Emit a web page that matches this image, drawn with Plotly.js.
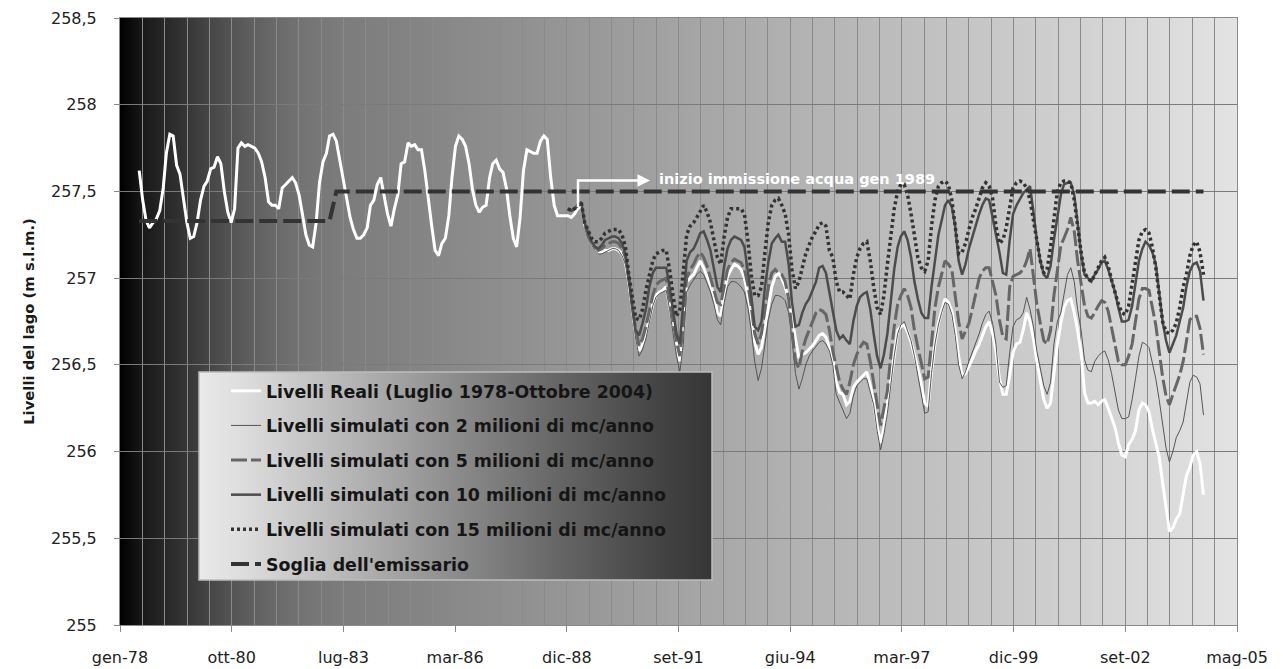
<!DOCTYPE html>
<html>
<head>
<meta charset="utf-8">
<script src="https://cdn.plot.ly/plotly-3.0.1.min.js"></script>
<style>html,body{margin:0;padding:0;background:#fff}#chart{width:1283px;height:669px}</style>
</head>
<body>
<div id="chart"></div>
<script>
// ---------- DATA ----------
const realStart = [1978, 7];   // first monthly value: luglio 1978
const simStart = [1989, 1];    // simulations start: gennaio 1989

const realValues = [
 257.62,257.45,257.33,257.29,257.32,257.34,
 257.39,257.52,257.72,257.83,257.82,257.65,257.60,257.45,257.32,257.23,257.24,257.32,
 257.45,257.53,257.56,257.63,257.64,257.70,257.66,257.50,257.38,257.32,257.40,257.75,
 257.78,257.76,257.77,257.76,257.75,257.72,257.67,257.58,257.44,257.42,257.42,257.40,
 257.52,257.54,257.56,257.58,257.55,257.48,257.37,257.25,257.19,257.18,257.32,257.55,
 257.67,257.72,257.82,257.83,257.79,257.68,257.58,257.48,257.35,257.28,257.23,257.23,
 257.25,257.29,257.42,257.45,257.54,257.58,257.48,257.37,257.30,257.40,257.48,257.66,
 257.67,257.78,257.76,257.77,257.74,257.74,257.62,257.45,257.30,257.16,257.13,257.20,
 257.23,257.36,257.58,257.76,257.82,257.80,257.76,257.66,257.51,257.42,257.38,257.41,
 257.42,257.58,257.66,257.68,257.63,257.61,257.52,257.36,257.23,257.18,257.35,257.62,
 257.74,257.73,257.72,257.72,257.79,257.82,257.80,257.58,257.42,257.36,257.36,257.36,
 257.36,257.35,257.37,257.40,257.42,257.31,257.24,257.20,257.17,257.15,257.15,257.16,
 257.16,257.17,257.17,257.16,257.14,257.09,256.98,256.83,256.68,256.58,256.62,256.68,
 256.76,256.85,256.90,256.92,256.93,256.95,256.84,256.72,256.62,256.52,256.70,256.98,
 257.00,257.02,257.06,257.10,257.06,257.01,256.96,256.90,256.80,256.78,256.92,257.01,
 257.05,257.08,257.07,257.05,257.00,256.90,256.79,256.63,256.56,256.60,256.72,256.85,
 256.95,257.01,257.03,257.00,256.95,256.88,256.78,256.65,256.54,256.56,256.57,256.59,
 256.61,256.64,256.67,256.68,256.66,256.60,256.54,256.40,256.34,256.33,256.27,256.29,
 256.37,256.40,256.42,256.44,256.46,256.38,256.29,256.15,256.05,256.14,256.27,256.40,
 256.55,256.70,256.72,256.73,256.69,256.63,256.56,256.48,256.39,256.28,256.26,256.46,
 256.62,256.74,256.81,256.88,256.86,256.81,256.70,256.55,256.44,256.45,256.49,256.54,
 256.58,256.62,256.67,256.72,256.75,256.68,256.58,256.42,256.33,256.33,256.44,256.57,
 256.62,256.63,256.70,256.80,256.75,256.65,256.52,256.40,256.30,256.25,256.28,256.45,
 256.62,256.74,256.83,256.87,256.88,256.80,256.70,256.57,256.34,256.28,256.28,256.29,
 256.27,256.29,256.30,256.25,256.20,256.14,256.05,255.98,255.97,256.04,256.07,256.12,
 256.24,256.28,256.27,256.23,256.13,256.05,255.97,255.82,255.66,255.54,255.56,255.61,
 255.64,255.76,255.86,255.91,255.98,256.00,255.93,255.75
];

const sim2Values = [
 257.40,257.39,257.40,257.42,257.43,257.30,257.23,257.19,257.16,257.14,257.14,257.15,
 257.16,257.17,257.17,257.16,257.13,257.08,256.96,256.80,256.65,256.55,256.59,256.65,
 256.75,256.84,256.89,256.91,256.92,256.93,256.82,256.68,256.55,256.46,256.62,256.92,
 256.96,256.99,257.02,257.04,257.02,256.97,256.92,256.85,256.76,256.73,256.86,256.95,
 256.98,256.98,256.97,256.95,256.92,256.83,256.70,256.52,256.41,256.48,256.62,256.76,
 256.85,256.90,256.90,256.89,256.87,256.80,256.65,256.45,256.36,256.42,256.50,256.55,
 256.58,256.61,256.63,256.64,256.62,256.58,256.50,256.33,256.28,256.24,256.19,256.22,
 256.32,256.38,256.40,256.42,256.42,256.35,256.27,256.12,256.01,256.10,256.22,256.38,
 256.55,256.68,256.73,256.75,256.70,256.64,256.55,256.44,256.33,256.22,256.23,256.45,
 256.62,256.73,256.80,256.86,256.85,256.79,256.67,256.50,256.42,256.46,256.52,256.57,
 256.62,256.68,256.74,256.79,256.81,256.74,256.62,256.40,256.37,256.38,256.57,256.72,
 256.76,256.77,256.80,256.89,256.82,256.72,256.58,256.48,256.38,256.33,256.40,256.62,
 256.75,256.80,256.90,257.02,257.06,256.98,256.82,256.70,256.53,256.47,256.46,256.52,
 256.55,256.57,256.58,256.53,256.45,256.33,256.24,256.19,256.19,256.20,256.30,256.42,
 256.55,256.63,256.62,256.60,256.52,256.42,256.30,256.15,256.02,255.94,256.00,256.08,
 256.12,256.17,256.28,256.40,256.44,256.43,256.39,256.21
];

const sim5Values = [
 257.40,257.39,257.40,257.42,257.43,257.31,257.24,257.20,257.18,257.16,257.17,257.19,
 257.20,257.21,257.21,257.20,257.17,257.12,257.00,256.84,256.70,256.61,256.65,256.72,
 256.82,256.90,256.96,256.98,256.99,257.00,256.88,256.74,256.63,256.55,256.72,257.00,
 257.05,257.08,257.12,257.15,257.12,257.07,257.00,256.93,256.86,256.85,256.96,257.05,
 257.09,257.11,257.10,257.09,257.05,256.96,256.84,256.68,256.62,256.68,256.82,256.95,
 257.03,257.05,257.03,257.02,256.98,256.88,256.70,256.52,256.48,256.58,256.65,256.70,
 256.75,256.80,256.82,256.81,256.79,256.70,256.58,256.48,256.40,256.36,256.33,256.40,
 256.50,256.56,256.60,256.63,256.62,256.52,256.40,256.25,256.15,256.25,256.35,256.55,
 256.72,256.85,256.90,256.94,256.90,256.83,256.70,256.60,256.50,256.42,256.43,256.65,
 256.83,256.95,257.02,257.10,257.08,257.05,256.90,256.75,256.65,256.70,256.74,256.82,
 256.92,257.00,257.04,257.06,257.06,256.97,256.90,256.76,256.66,256.65,256.95,257.01,
 257.02,257.03,257.05,257.10,257.17,257.00,256.85,256.74,256.64,256.62,256.70,256.90,
 257.05,257.19,257.23,257.28,257.35,257.27,257.10,256.98,256.84,256.78,256.77,256.80,
 256.84,256.87,256.86,256.81,256.72,256.63,256.52,256.50,256.50,256.55,256.62,256.75,
 256.88,256.94,256.94,256.93,256.84,256.73,256.58,256.43,256.32,256.27,256.33,256.38,
 256.44,256.52,256.64,256.76,256.78,256.78,256.71,256.56
];

const sim10Values = [
 257.40,257.39,257.40,257.42,257.44,257.32,257.26,257.21,257.18,257.17,257.19,257.22,
 257.23,257.24,257.24,257.23,257.20,257.14,257.01,256.83,256.70,256.67,256.74,256.82,
 256.95,257.03,257.06,257.06,257.06,257.06,256.95,256.82,256.68,256.62,256.85,257.10,
 257.15,257.17,257.21,257.26,257.27,257.22,257.16,257.05,256.95,256.92,257.07,257.17,
 257.22,257.24,257.23,257.22,257.18,257.05,256.90,256.72,256.70,256.75,256.95,257.09,
 257.20,257.23,257.25,257.21,257.21,257.08,256.86,256.72,256.73,256.80,256.85,256.88,
 256.93,256.98,257.06,257.07,257.03,256.92,256.82,256.70,256.65,256.67,256.64,256.62,
 256.75,256.84,256.89,256.91,256.92,256.82,256.68,256.55,256.48,256.56,256.68,256.88,
 257.05,257.18,257.24,257.27,257.22,257.12,256.98,256.88,256.80,256.77,256.77,256.95,
 257.10,257.25,257.33,257.42,257.45,257.41,257.30,257.10,257.02,257.08,257.17,257.24,
 257.30,257.37,257.42,257.46,257.45,257.35,257.26,257.15,257.03,257.02,257.22,257.37,
 257.42,257.46,257.49,257.51,257.53,257.38,257.22,257.10,257.02,257.00,257.07,257.22,
 257.36,257.48,257.54,257.55,257.55,257.48,257.32,257.14,257.02,257.00,256.98,257.02,
 257.05,257.09,257.10,257.05,256.98,256.92,256.83,256.75,256.75,256.76,256.84,256.98,
 257.10,257.17,257.21,257.19,257.15,257.08,256.93,256.75,256.64,256.57,256.62,256.67,
 256.75,256.83,256.95,257.04,257.08,257.09,257.04,256.87
];

const sim15Values = [
 257.40,257.39,257.40,257.42,257.44,257.32,257.27,257.23,257.21,257.21,257.23,257.26,
 257.27,257.28,257.28,257.28,257.25,257.18,257.02,256.88,256.77,256.76,256.82,256.93,
 257.02,257.10,257.14,257.15,257.16,257.16,257.05,256.90,256.78,256.82,257.05,257.25,
 257.30,257.32,257.35,257.39,257.42,257.38,257.32,257.22,257.12,257.08,257.24,257.35,
 257.40,257.40,257.40,257.40,257.37,257.22,257.02,256.90,256.90,256.95,257.15,257.32,
 257.42,257.45,257.46,257.42,257.37,257.25,257.05,256.94,256.98,257.06,257.14,257.19,
 257.24,257.27,257.31,257.32,257.30,257.16,257.12,256.98,256.92,256.92,256.90,256.88,
 257.02,257.12,257.17,257.20,257.21,257.10,256.95,256.83,256.79,256.90,257.08,257.25,
 257.40,257.50,257.54,257.54,257.48,257.37,257.24,257.12,257.06,257.04,257.10,257.30,
 257.45,257.53,257.55,257.56,257.54,257.45,257.30,257.14,257.15,257.20,257.28,257.35,
 257.40,257.46,257.52,257.55,257.53,257.46,257.30,257.20,257.22,257.29,257.42,257.52,
 257.55,257.56,257.55,257.52,257.45,257.33,257.22,257.10,257.03,257.05,257.18,257.35,
 257.50,257.55,257.56,257.56,257.55,257.45,257.30,257.15,257.03,257.00,256.98,257.02,
 257.06,257.10,257.12,257.07,256.99,256.92,256.85,256.80,256.79,256.84,256.96,257.10,
 257.22,257.27,257.28,257.26,257.18,257.06,256.90,256.75,256.69,256.68,256.70,256.74,
 256.83,256.95,257.02,257.13,257.19,257.21,257.15,257.02
];

const sogliaDates = ['1978-07-01', '1983-03-01', '1983-05-01', '2004-08-01'];
const sogliaValues = [257.33, 257.33, 257.50, 257.50];

const seriesNames = [
  'Livelli Reali (Luglio 1978-Ottobre 2004)',
  'Livelli simulati con 2 milioni di mc/anno',
  'Livelli simulati con 5 milioni di mc/anno',
  'Livelli simulati con 10 milioni di mc/anno',
  'Livelli simulati con 15 milioni di mc/anno',
  "Soglia dell'emissario"
];

const xTickText = ['gen-78','ott-80','lug-83','mar-86','dic-88','set-91','giu-94','mar-97','dic-99','set-02','mag-05'];
const yTickVals = [255, 255.5, 256, 256.5, 257, 257.5, 258, 258.5];
const yTickText = ['255', '255,5', '256', '256,5', '257', '257,5', '258', '258,5'];
const yTitle = 'Livelli del lago (m s.l.m.)';
const noteText = 'inizio immissione acqua gen 1989';

// ---------- HELPERS ----------
const DAY = 86400000;
const axisStartMs = Date.UTC(1978, 0, 10);
function isoDate(ms) { return new Date(ms).toISOString().slice(0, 10); }
function monthDates(start, n) {
  const out = [];
  for (let i = 0; i < n; i++) {
    const k = start[1] - 1 + i;
    const y = start[0] + Math.floor(k / 12);
    const m = (k % 12) + 1;
    out.push(y + '-' + String(m).padStart(2, '0') + '-01');
  }
  return out;
}
function gradientURI(stops) {
  const s = stops.map(([o, c]) => '<stop offset="' + o + '" stop-color="' + c + '"/>').join('');
  const svg = '<svg xmlns="http://www.w3.org/2000/svg" width="400" height="100" viewBox="0 0 400 100" preserveAspectRatio="none">' +
    '<defs><linearGradient id="g" x1="0" y1="0" x2="1" y2="0">' + s + '</linearGradient></defs>' +
    '<rect x="0" y="0" width="400" height="100" fill="url(#g)"/></svg>';
  return 'data:image/svg+xml;charset=utf-8,' + encodeURIComponent(svg);
}

const realDates = monthDates(realStart, realValues.length);
const simDates = monthDates(simStart, sim2Values.length);
const xTickVals = xTickText.map((_, i) => isoDate(axisStartMs + i * 1000 * DAY));
const xRange = [isoDate(axisStartMs), isoDate(axisStartMs + 10000 * DAY)];

const FONT = 'DejaVu Sans, Arial, sans-serif';

const traces = [
  {x: realDates, y: realValues, name: seriesNames[0], mode: 'lines', legendgroup: 'a',
   line: {color: '#ffffff', width: 3}},
  {x: simDates, y: sim2Values, name: seriesNames[1], mode: 'lines', legendgroup: 'b',
   line: {color: '#555555', width: 1}},
  {x: simDates, y: sim5Values, name: seriesNames[2], mode: 'lines', legendgroup: 'c',
   line: {color: '#666666', width: 3, dash: '16px,4px'}},
  {x: simDates, y: sim10Values, name: seriesNames[3], mode: 'lines', legendgroup: 'd',
   line: {color: '#4c4c4c', width: 2.5}},
  {x: simDates, y: sim15Values, name: seriesNames[4], mode: 'lines', legendgroup: 'e',
   line: {color: '#333333', width: 3.5, dash: '3px,3px'}},
  {x: sogliaDates, y: sogliaValues, name: seriesNames[5], mode: 'lines', legendgroup: 'f',
   line: {color: '#333333', width: 4, dash: '18px,6px'}}
];

const plotW = 1117, plotH = 607, plotL = 120, plotT = 18;
function px2paperX(px) { return (px - plotL) / plotW; }
function px2paperY(py) { return 1 - (py - plotT) / plotH; }

const bgStops = [
  [0, '#000000'], [0.02, '#181818'], [0.04, '#272727'], [0.06, '#363636'], [0.08, '#464646'],
  [0.10, '#545454'], [0.12, '#606060'], [0.14, '#6a6a6a'], [0.16, '#727272'], [0.18, '#787878'],
  [0.20, '#7c7c7c'], [0.25, '#828282'], [0.40, '#969696'], [0.60, '#b1b1b1'], [0.80, '#cacaca'],
  [1, '#e3e3e3']
];
const legendStops = [
  [0, '#e9e9e9'], [0.08, '#dedede'], [0.3, '#b4b4b4'], [0.5, '#8c8c8c'], [0.7, '#666666'],
  [0.9, '#434343'], [1, '#363636']
];

const legBox = {x0: 199, x1: 712, y0: 372, y1: 580};
// arrow geometry (pixels in the page)
const arrow = {x: 578, yLow: 207, yHigh: 180.5, tipX: 650, textX: 657, textY: 179};

const layout = {
  width: 1283, height: 669,
  margin: {l: plotL, r: 1283 - plotL - plotW, t: plotT, b: 669 - plotT - plotH, pad: 0},
  paper_bgcolor: '#ffffff',
  plot_bgcolor: 'rgba(0,0,0,0)',
  font: {family: FONT, size: 16, color: '#222222'},
  showlegend: true,
  legend: {
    x: px2paperX(226), y: px2paperY(373), xanchor: 'left', yanchor: 'top',
    bgcolor: 'rgba(0,0,0,0)', borderwidth: 0, tracegroupgap: 9,
    font: {family: FONT, size: 17.4, weight: 'bold', color: '#151515'}
  },
  xaxis: {
    type: 'date', range: xRange, tickmode: 'array', tickvals: xTickVals, ticktext: xTickText,
    ticks: 'outside', ticklen: 6, tickcolor: '#8a8a8a', tickwidth: 1,
    showline: true, linecolor: '#8a8a8a', linewidth: 1, mirror: true,
    showgrid: true, gridcolor: '#8a8a8a', gridwidth: 1, zeroline: false,
    ticklabelstandoff: 12,
    tickfont: {family: FONT, size: 16, color: '#222222'},
    minor: {tickmode: 'linear', tick0: isoDate(axisStartMs), dtick: 200 * DAY,
            showgrid: true, gridcolor: '#8a8a8a', gridwidth: 1, ticks: ''}
  },
  yaxis: {
    range: [255, 258.5], tickmode: 'array', tickvals: yTickVals, ticktext: yTickText,
    ticks: 'outside', ticklen: 5, tickcolor: '#8a8a8a', tickwidth: 1,
    showline: true, linecolor: '#8a8a8a', linewidth: 1, mirror: true,
    showgrid: true, gridcolor: '#7a7a7a', gridwidth: 1, zeroline: false,
    ticklabelstandoff: 14,
    tickfont: {family: FONT, size: 16, color: '#222222'},
    title: {text: yTitle, standoff: 12, font: {family: FONT, size: 14.8, weight: 'bold', color: '#1a1a1a'}}
  },
  images: [
    {source: gradientURI(bgStops), xref: 'paper', yref: 'paper', x: 0, y: 1, sizex: 1, sizey: 1,
     xanchor: 'left', yanchor: 'top', sizing: 'stretch', layer: 'below'},
    {source: gradientURI(legendStops), xref: 'paper', yref: 'paper',
     x: px2paperX(legBox.x0), y: px2paperY(legBox.y0),
     sizex: (legBox.x1 - legBox.x0) / plotW, sizey: (legBox.y1 - legBox.y0) / plotH,
     xanchor: 'left', yanchor: 'top', sizing: 'stretch', layer: 'above'}
  ],
  shapes: [
    {type: 'rect', xref: 'paper', yref: 'paper', layer: 'above',
     x0: px2paperX(legBox.x0), x1: px2paperX(legBox.x1), y0: px2paperY(legBox.y1), y1: px2paperY(legBox.y0),
     line: {color: '#bdbdbd', width: 1.5}, fillcolor: 'rgba(0,0,0,0)'},
    {type: 'line', xref: 'paper', yref: 'paper', layer: 'above',
     x0: px2paperX(arrow.x), x1: px2paperX(arrow.x), y0: px2paperY(arrow.yLow), y1: px2paperY(arrow.yHigh - 1.2),
     line: {color: '#ffffff', width: 2.5}}
  ],
  annotations: [
    {x: px2paperX(arrow.tipX), y: px2paperY(arrow.yHigh), xref: 'paper', yref: 'paper', text: '', showarrow: true,
     ax: -(arrow.tipX - arrow.x + 1.2), ay: 0, axref: 'pixel', ayref: 'pixel',
     arrowcolor: '#ffffff', arrowwidth: 2.5, arrowhead: 2, arrowsize: 1, standoff: 0, startstandoff: 0},
    {x: px2paperX(arrow.textX), y: px2paperY(arrow.textY), xref: 'paper', yref: 'paper', text: noteText, showarrow: false,
     xanchor: 'left', yanchor: 'middle',
     font: {family: FONT, size: 14.5, weight: 'bold', color: '#ffffff'}}
  ]
};

Plotly.newPlot('chart', traces, layout, {displayModeBar: false, staticPlot: true});
</script>
</body>
</html>
